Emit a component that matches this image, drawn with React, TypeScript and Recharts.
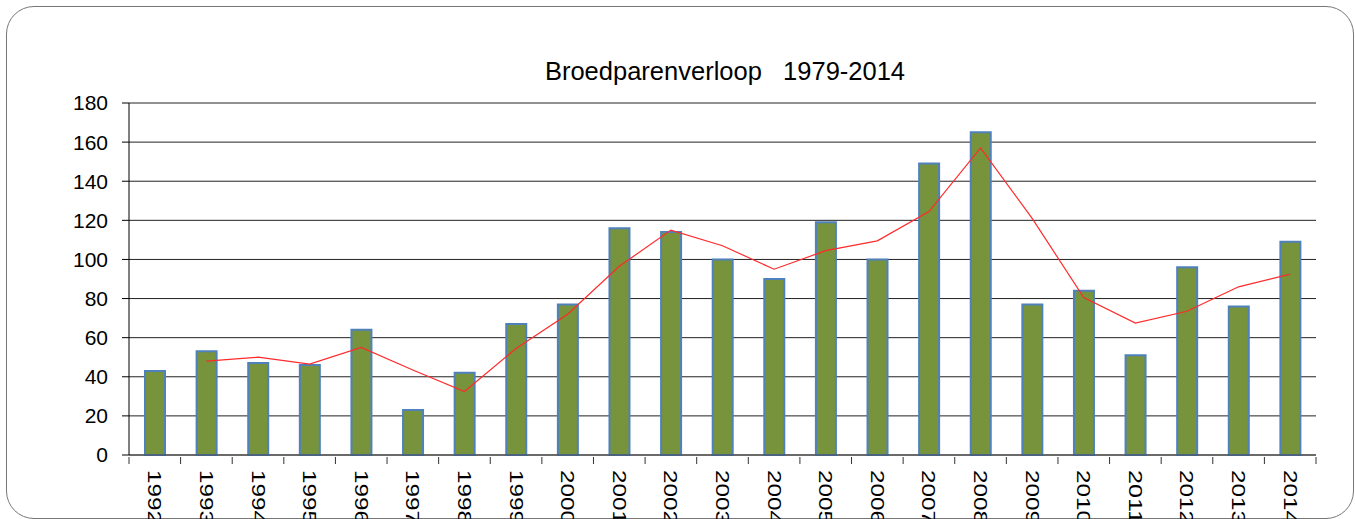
import { ComposedChart, Bar, Line, XAxis, YAxis, CartesianGrid } from 'recharts';

const years = [
  '1992', '1993', '1994', '1995', '1996', '1997', '1998', '1999', '2000', '2001', '2002', '2003',
  '2004', '2005', '2006', '2007', '2008', '2009', '2010', '2011', '2012', '2013', '2014',
];

// broedparen per jaar
const pairs = [43, 53, 47, 46, 64, 23, 42, 67, 77, 116, 114, 100, 90, 119, 100, 149, 165, 77, 84, 51, 96, 76, 109];

// rode lijn (gemiddelde), geen waarde voor 1992
const trend = [
  null, 48, 50, 46.5, 55, 43.5, 32.5, 54.5, 72, 96.5, 115, 107, 95, 104.5, 109.5, 124.5, 157, 121, 80.5,
  67.5, 73.5, 86, 92.5,
];

const yTicks = [0, 20, 40, 60, 80, 100, 120, 140, 160, 180];

const data = years.map((year, i) => ({ year, pairs: pairs[i], trend: trend[i] }));

const FONT = '"Liberation Sans", Arial, sans-serif';

// jaartal verticaal + streepjes op de grenzen tussen de categorieen
function YearTick({ x, y, payload, index }: any) {
  const half = payload.offset || 0;
  const ty = y + 13;
  return (
    <g>
      <line x1={x - half} x2={x - half} y1={y} y2={y + 7} stroke="#333" />
      {index === years.length - 1 && <line x1={x + half} x2={x + half} y1={y} y2={y + 7} stroke="#333" />}
      <text
        x={x}
        y={ty}
        transform={`rotate(90, ${x}, ${ty})`}
        textAnchor="start"
        dominantBaseline="central"
        fontSize={19}
        textLength={54}
        lengthAdjust="spacingAndGlyphs"
        fill="#000"
        fontFamily={FONT}
      >
        {payload.value}
      </text>
    </g>
  );
}

export default function App() {
  return (
    <div style={{ position: 'absolute', left: 0, top: 0, width: 1355, height: 519, background: '#fff', overflow: 'hidden' }}>
      {/* frame */}
      <div
        style={{
          position: 'absolute',
          left: 6,
          top: 6,
          width: 1346,
          height: 511,
          border: '1px solid #777',
          borderRadius: 28,
        }}
      />
      <div
        style={{
          position: 'absolute',
          left: 129,
          width: 1192,
          top: 57,
          textAlign: 'center',
          fontFamily: FONT,
          fontSize: 25.5,
          color: '#000',
          whiteSpace: 'pre',
        }}
      >
        {'Broedparenverloop   1979-2014'}
      </div>
      <div style={{ position: 'absolute', left: 0, top: 0 }}>
        <ComposedChart
          width={1355}
          height={519}
          data={data}
          margin={{ top: 103, right: 39, left: 0, bottom: 0 }}
          style={{ fontFamily: FONT }}
        >
          <CartesianGrid vertical={false} stroke="#222" />
          <XAxis
            dataKey="year"
            interval={0}
            tickLine={false}
            tickSize={0}
            axisLine={{ stroke: '#444' }}
            tick={<YearTick />}
            height={64}
          />
          <YAxis
            domain={[0, 180]}
            ticks={yTicks}
            interval={0}
            width={129}
            tickSize={7}
            tickMargin={14}
            axisLine={{ stroke: '#000' }}
            tickLine={{ stroke: '#000' }}
            tick={{ fill: '#000', fontSize: 21 }}
          />
          <Bar
            dataKey="pairs"
            barSize={20}
            fill="#77933c"
            stroke="#4f81bd"
            strokeWidth={2}
            isAnimationActive={false}
          />
          <Line
            dataKey="trend"
            type="linear"
            stroke="#ff2a2a"
            strokeWidth={1.2}
            dot={false}
            activeDot={false}
            isAnimationActive={false}
          />
        </ComposedChart>
      </div>
    </div>
  );
}
